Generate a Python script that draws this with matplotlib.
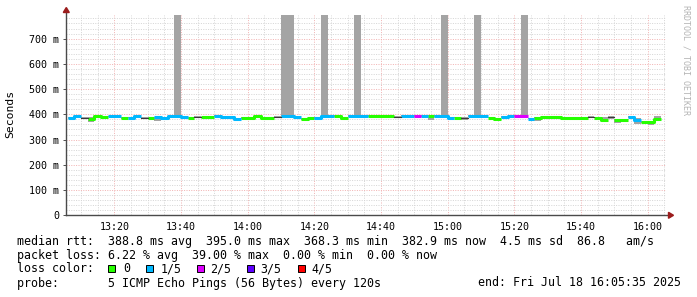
import matplotlib
matplotlib.use("Agg")
import matplotlib.pyplot as plt
import matplotlib.patches as patches
import numpy as np

# ---- data (one value per 120 s step, first step starts 13:06) ----
median_ms = [
    384.3, 395.0, 387.0, 383.0, 393.6, 389.6, 392.2, 392.2, 385.6, 387.0,
    393.6, 385.6, 387.0, 388.3, 387.0, 392.2, 392.2, 389.6, 385.6, 389.6,
    388.3, 389.6, 393.6, 389.6, 389.6, 383.0, 385.6, 385.6, 393.6, 387.0,
    387.0, 390.9, 392.2, 393.6, 388.3, 383.0, 387.0, 385.6, 392.2, 392.2,
    393.6, 387.0, 393.6, 393.6, 393.6, 393.6, 393.6, 392.2, 392.2, 390.9,
    393.6, 393.6, 393.6, 393.6, 393.6, 393.6, 392.2, 387.0, 387.0, 387.0,
    393.6, 393.6, 393.6, 387.0, 383.0, 389.6, 392.2, 393.6, 393.6, 383.0,
    387.0, 390.9, 390.9, 390.9, 387.0, 387.0, 387.0, 387.0, 390.9, 387.0,
    379.0, 389.6, 379.0, 379.0, 389.6, 379.0, 370.0, 368.3, 382.9,
]
# lost pings out of 5 per step (-1: no loss colour drawn)
loss_level = [
    1, 1, -1, 0, 0, 0, 1, 1, 0, 1,
    1, -1, 0, 1, 1, 1, 1, 1, 0, -1,
    0, 0, 1, 1, 1, 1, 0, 0, 0, 0,
    0, -1, 1, 1, 1, 0, 0, 1, 1, 1,
    0, 0, 1, 1, 1, 0, 0, 0, 0, -1,
    1, 1, 2, 1, 0, 1, 1, 1, 0, -1,
    1, 1, 1, 0, 0, 1, 1, 2, 2, 1,
    0, 0, 0, 0, 0, 0, 0, 0, -1, 0,
    0, -1, 0, 0, 1, 1, 0, 0, 0,
]
smoke_min = [
    381, 390, 382, 369, 389, 386, 389, 389, 382, 384,
    390, 381, 384, 374, 384, 389, 389, 386, 382, 385,
    385, 386, 390, 386, 386, 380, 382, 382, 390, 384,
    384, 386, 386, 388, 385, 377, 384, 382, 389, 389,
    390, 384, 390, 390, 390, 390, 390, 389, 389, 387,
    390, 390, 390, 390, 379, 390, 389, 384, 384, 377,
    390, 390, 390, 384, 374, 384, 389, 390, 390, 380,
    374, 388, 388, 388, 380, 384, 379, 379, 386, 384,
    375, 383, 365, 376, 386, 360, 366, 358, 380,
]
smoke_max = [
    388, 396, 391, 388, 396, 392, 395, 395, 389, 390,
    396, 390, 390, 391, 390, 395, 1500, 392, 389, 392,
    391, 392, 396, 392, 392, 386, 389, 389, 396, 391,
    391, 393, 1500, 1500, 391, 386, 390, 389, 1500, 395,
    396, 390, 396, 1500, 396, 396, 396, 395, 395, 393,
    396, 396, 396, 396, 396, 396, 1500, 390, 390, 390,
    396, 1500, 396, 390, 386, 392, 395, 396, 1500, 386,
    390, 394, 394, 394, 390, 390, 390, 390, 393, 390,
    388, 392, 383, 382, 392, 385, 373, 372, 393,
]

loss_colors = {0: "#26ff00", 1: "#00b8ff", 2: "#dd00ff", 3: "#5e00ff", 4: "#ff0000"}
loss_names = ["0", "1/5", "2/5", "3/5", "4/5"]
x_major = [20, 40, 60, 80, 100, 120, 140, 160, 180]   # minutes after 13:00
y_major = [0, 100, 200, 300, 400, 500, 600, 700]

W, H = 697, 297
MONO = "DejaVu Sans Mono"


def fx(px):
    return px / W


def fy(py):
    return 1 - py / H


fig = plt.figure(figsize=(W / 100, H / 100), dpi=100)
fig.patch.set_facecolor("white")
ax = fig.add_axes([fx(66.3), fy(215.3), 600 / W, 200.3 / H])
ax.set_facecolor("white")

n = len(median_ms)
edges = 6 + 2 * np.arange(n + 1)

# smoke
lo = np.append(smoke_min, smoke_min[-1])
hi = np.append(smoke_max, smoke_max[-1])
ax.fill_between(edges, lo, hi, step="post", color="#a4a4a4", lw=0, zorder=2)

# median coloured by loss
med = np.array(median_ms, dtype=float)
lvl = np.array(loss_level)
for k, col in loss_colors.items():
    y = np.where(lvl == k, med, np.nan)
    ax.plot(edges, np.append(y, np.nan), drawstyle="steps-post", color=col,
            lw=2.2, solid_capstyle="butt", zorder=3)
y = np.where(lvl == -1, med, np.nan)
ax.plot(edges, np.append(y, np.nan), drawstyle="steps-post", color="#3a3a3a",
        lw=0.8, zorder=3)

ax.set_xlim(5 + 35 / 60, 185 + 35 / 60)
ax.set_ylim(0, 793.6)

# grid
ax.set_xticks(x_major)
ax.set_xticklabels(["%d:%02d" % (13 + m // 60, m % 60) for m in x_major])
ax.set_xticks(np.arange(10, 186, 5), minor=True)
ax.set_yticks(y_major)
ax.set_yticklabels(["0" if v == 0 else "%d m" % v for v in y_major])
ax.set_yticks(np.arange(20, 790, 20), minor=True)
ax.set_axisbelow(True)
ax.grid(which="minor", color="#d6d6d6", lw=0.72, linestyle=(0, (1, 1.4)))
ax.grid(which="major", color="#f2b4b4", lw=0.72, linestyle=(0, (1, 1.4)))
ax.tick_params(which="minor", length=0)
ax.tick_params(axis="y", which="major", length=2, width=0.72, color="#555555",
               pad=3, labelsize=7.2)
ax.tick_params(axis="x", which="major", length=0, pad=5, labelsize=7.2)
for lab in ax.get_xticklabels() + ax.get_yticklabels():
    lab.set_family(MONO)
for s in ax.spines.values():
    s.set_visible(False)

# axes with arrows
axis_col = "#4a4a4a"
arrow_col = "#9b1c1c"
top = 1 + 3 / 200.3
right = 1 + 3 / 600
ax.plot([0, 0], [0, top], transform=ax.transAxes, color=axis_col, lw=1, clip_on=False, zorder=5)
ax.plot([0, right], [0, 0], transform=ax.transAxes, color=axis_col, lw=1, clip_on=False, zorder=5)
fig.patches.append(patches.Polygon([[fx(63.3), fy(12.5)], [fx(69.3), fy(12.5)], [fx(66.3), fy(7.5)]],
                                   closed=True, color=arrow_col, transform=fig.transFigure))
fig.patches.append(patches.Polygon([[fx(668.5), fy(212.3)], [fx(668.5), fy(218.3)], [fx(673.5), fy(215.3)]],
                                   closed=True, color=arrow_col, transform=fig.transFigure))

# labels
fig.text(fx(10.5), fy(114), "Seconds", rotation=90, ha="center", va="center",
         family=MONO, fontsize=8.2)
fig.text(fx(686), fy(60), "RRDTOOL / TOBI OETIKER", rotation=270, ha="center", va="center",
         family=MONO, fontsize=6, color="#b4b4b4")

# legend block
fs = 8.35
fig.text(fx(17), fy(244.5),
         "median rtt:  388.8 ms avg  395.0 ms max  368.3 ms min  382.9 ms now  4.5 ms sd  86.8   am/s",
         family=MONO, fontsize=fs, va="baseline")
fig.text(fx(17), fy(258.5),
         "packet loss: 6.22 % avg  39.00 % max  0.00 % min  0.00 % now",
         family=MONO, fontsize=fs, va="baseline")
fig.text(fx(17), fy(272.5), "loss color:", family=MONO, fontsize=fs, va="baseline")
box_x = [108.3, 145.7, 196.7, 247.3, 297.7]
lab_x = [123.5, 160.5, 210.5, 260.5, 311.5]
for i, name in enumerate(loss_names):
    fig.patches.append(patches.Rectangle((fx(box_x[i]), fy(271.8)), 7 / W, 7 / H,
                                         facecolor=loss_colors[i], edgecolor="black", lw=0.7,
                                         transform=fig.transFigure))
    fig.text(fx(lab_x[i]), fy(272.5), name, family=MONO, fontsize=fs, va="baseline")
fig.text(fx(17), fy(286.5), "probe:       5 ICMP Echo Pings (56 Bytes) every 120s",
         family=MONO, fontsize=fs, va="baseline")
fig.text(fx(478.3), fy(286.5), "end: Fri Jul 18 16:05:35 2025",
         family=MONO, fontsize=fs, va="baseline")

fig.savefig("out.png", dpi=100, facecolor="white")
